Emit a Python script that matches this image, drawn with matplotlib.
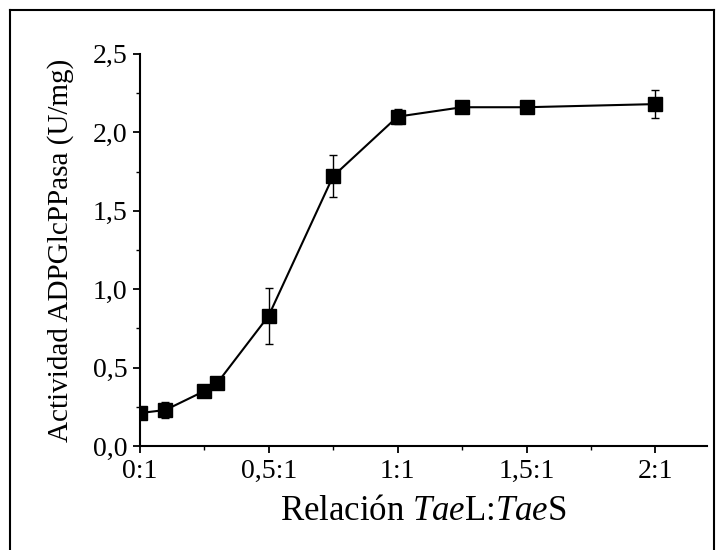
import matplotlib
matplotlib.use("Agg")
import matplotlib.pyplot as plt
from matplotlib.ticker import MultipleLocator, FixedLocator
from matplotlib.lines import Line2D

plt.rcParams['font.family'] = ['Liberation Serif', 'DejaVu Serif']
plt.rcParams['mathtext.fontset'] = 'custom'
plt.rcParams['mathtext.rm'] = 'Liberation Serif'
plt.rcParams['mathtext.it'] = 'Liberation Serif:italic'

ratio = [0.0, 0.1, 0.25, 0.3, 0.5, 0.75, 1.0, 1.25, 1.5, 2.0]
activity = [0.21, 0.23, 0.35, 0.40, 0.83, 1.72, 2.10, 2.16, 2.16, 2.18]
error = [0.0, 0.05, 0.02, 0.02, 0.18, 0.135, 0.05, 0.03, 0.02, 0.09]
tick_pos = [0.0, 0.5, 1.0, 1.5, 2.0]
tick_labels = ["0:1", "0,5:1", "1:1", "1,5:1", "2:1"]
ytick_pos = [0.0, 0.5, 1.0, 1.5, 2.0, 2.5]
ytick_labels = ["0,0", "0,5", "1,0", "1,5", "2,0", "2,5"]

fig = plt.figure(figsize=(7.2, 5.5), dpi=100)
ax = fig.add_axes([0.194, 0.189, 0.788, 0.713])

ax.errorbar(ratio, activity, yerr=error, color='black', lw=1.5, marker='s',
            markersize=10, ecolor='black', elinewidth=1, capsize=3, capthick=1)

ax.set_xlim(0, 2.2)
ax.set_ylim(0, 2.5)
ax.xaxis.set_major_locator(FixedLocator(tick_pos))
ax.set_xticklabels(tick_labels)
ax.xaxis.set_minor_locator(MultipleLocator(0.25))
ax.yaxis.set_major_locator(FixedLocator(ytick_pos))
ax.set_yticklabels(ytick_labels)
ax.yaxis.set_minor_locator(MultipleLocator(0.25))
ax.tick_params(which='major', direction='out', length=5, width=1.3, labelsize=20, pad=4)
ax.tick_params(which='minor', direction='out', length=3, width=1.0)
ax.spines['top'].set_visible(False)
ax.spines['right'].set_visible(False)
ax.spines['left'].set_linewidth(1.5)
ax.spines['bottom'].set_linewidth(1.5)

ax.set_xlabel("Relación $\\it{Tae}$L:$\\it{Tae}$S", fontsize=25, labelpad=8)
ax.set_ylabel("Actividad ADPGlcPPasa (U/mg)", fontsize=21, labelpad=13)

# outer frame (no bottom edge visible)
for xs, ys in [([0.014, 0.014], [0.0, 0.982]), ([0.014, 0.991], [0.982, 0.982]),
               ([0.991, 0.991], [0.982, 0.0])]:
    fig.add_artist(Line2D(xs, ys, transform=fig.transFigure, color='black', lw=1.5))

fig.savefig("out.png", dpi=100)
